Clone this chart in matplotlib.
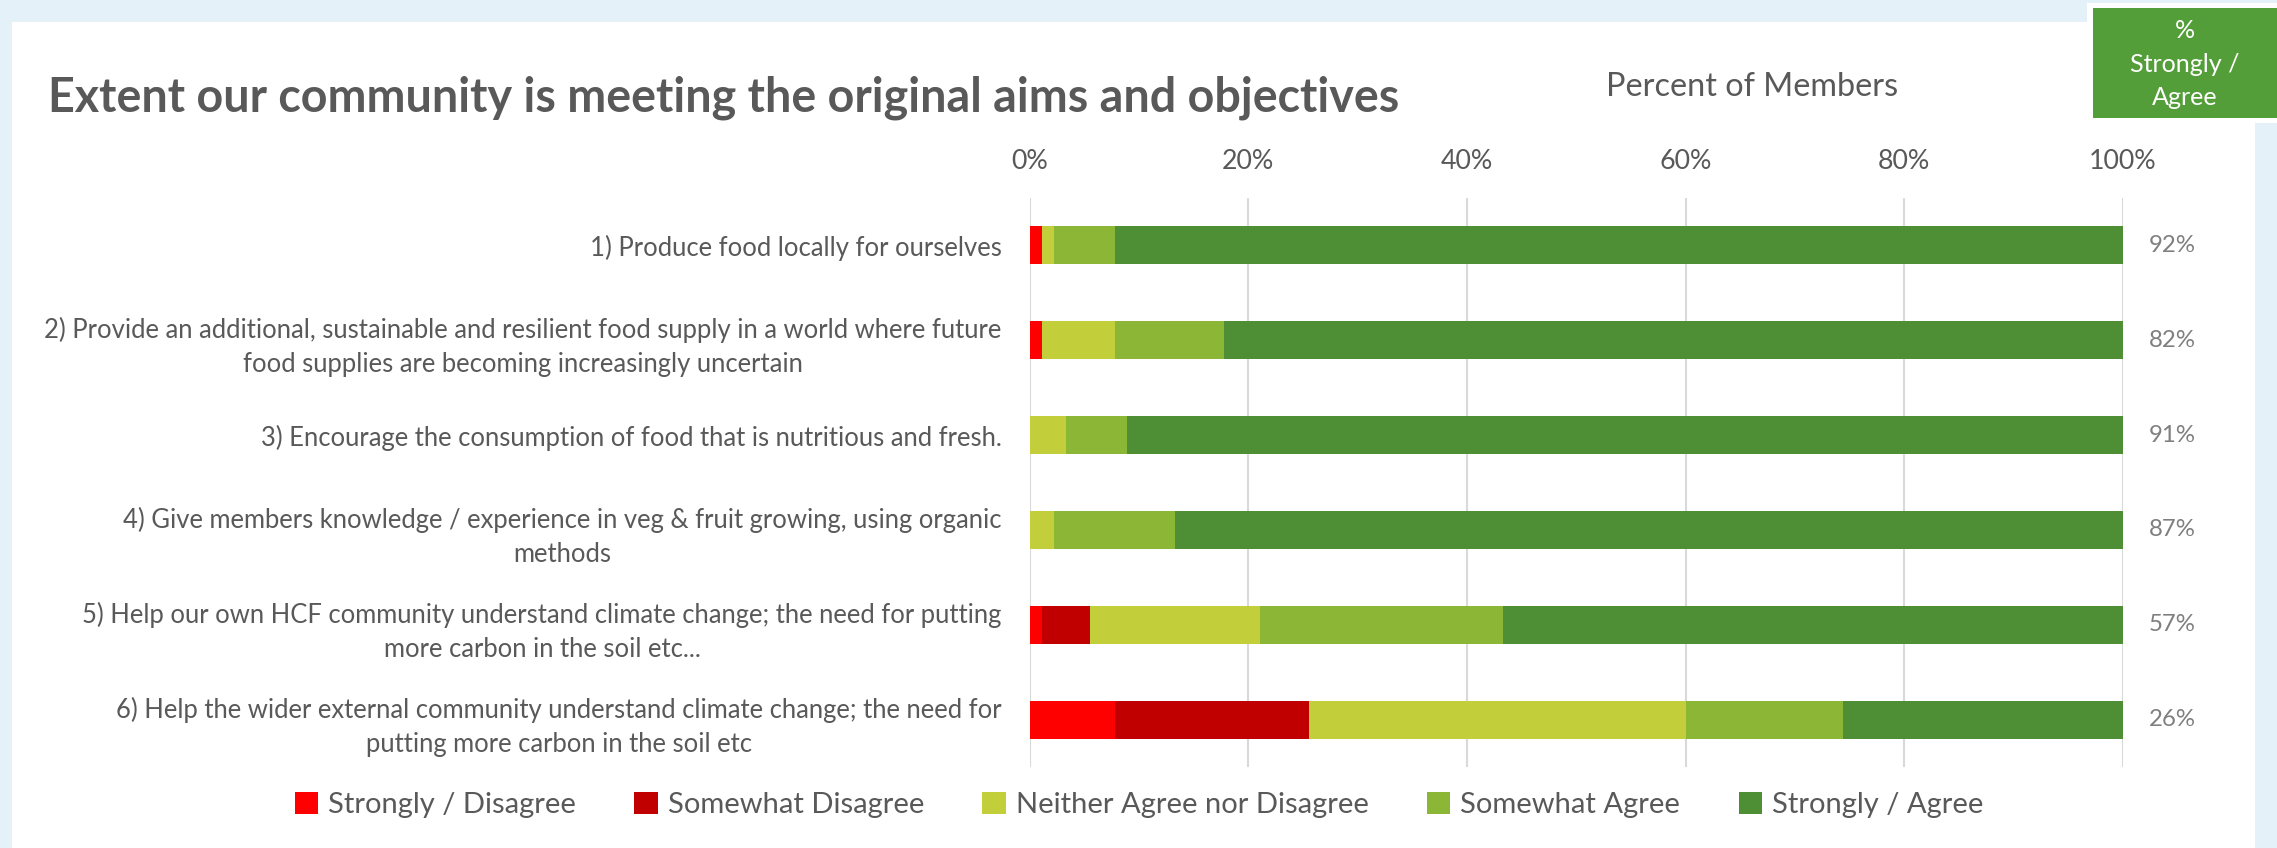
import matplotlib
matplotlib.use("Agg")
import matplotlib.pyplot as plt
from matplotlib.patches import Rectangle, Patch
from matplotlib.transforms import blended_transform_factory
import numpy as np

# ---------------- data ----------------
categories = [
    "1) Produce food locally for ourselves",
    "2) Provide an additional, sustainable and resilient food supply in a world where future\nfood supplies are becoming increasingly uncertain",
    "3) Encourage the consumption of food that is nutritious and fresh.",
    "4) Give members knowledge / experience in veg & fruit growing, using organic\nmethods",
    "5) Help our own HCF community understand climate change; the need for putting\nmore carbon in the soil etc...",
    "6) Help the wider external community understand climate change; the need for\nputting more carbon in the soil etc",
]
series_names = ["Strongly / Disagree", "Somewhat Disagree", "Neither Agree nor Disagree",
                "Somewhat Agree", "Strongly / Agree"]
strongly_disagree = [1.1, 1.1, 0.0, 0.0, 1.1, 7.8]
somewhat_disagree = [0.0, 0.0, 0.0, 0.0, 4.4, 17.8]
neither = [1.1, 6.7, 3.3, 2.2, 15.6, 34.4]
somewhat_agree = [5.6, 10.0, 5.6, 11.1, 22.2, 14.4]
strongly_agree = [92.2, 82.2, 91.1, 86.7, 56.7, 25.6]
x_ticks = [0, 20, 40, 60, 80, 100]
x_tick_labels = ["0%", "20%", "40%", "60%", "80%", "100%"]

title = "Extent our community is meeting the original aims and objectives"
axis_title = "Percent of Members"
box_text = "%\nStrongly /\nAgree"

colors = ["#FF0000", "#C00000", "#C2CF3A", "#8CB736", "#4E8E35"]
TEXT = "#595959"
PCT = "#7F7F7F"
BG = "#E4F1F8"
BOX = "#549E39"
FONT = "Lato"

W, H = 2277, 848
DPI = 100
fig = plt.figure(figsize=(W / DPI, H / DPI), dpi=DPI, facecolor=BG)
renderer = fig.canvas.get_renderer()


def fx(px):
    return px / W


def fy(py):
    return 1 - py / H


def fit(text, target, weight="normal", base=20.0):
    t = fig.text(0, 0, text, fontsize=base, weight=weight, family=FONT)
    w = t.get_window_extent(renderer).width
    t.remove()
    return base * target / w


# background panels
fig.patches.append(Rectangle((fx(12), 0), fx(2255) - fx(12), fy(22), transform=fig.transFigure,
                             facecolor="white", edgecolor="none", zorder=-10))
fig.patches.append(Rectangle((fx(2087), fy(123)), 1 - fx(2087), fy(3) - fy(123), transform=fig.transFigure,
                             facecolor="white", edgecolor="none", zorder=-10))
fig.patches.append(Rectangle((fx(2093), fy(118)), 1 - fx(2093), fy(8) - fy(118), transform=fig.transFigure,
                             facecolor=BOX, edgecolor="none", zorder=-9))

# font sizes fitted to reference widths
fs_title = fit(title, 1349, weight="bold")
fs_axis = fit(axis_title, 292)
fs_cat = fit("1) Produce food locally for ourselves", 412)
fs_tick = fit("100%", 68)
fs_leg = fit("Neither Agree nor Disagree", 353)
fs_pct = fit("92%", 47)
fs_box = fit("Strongly /", 110)

# axes
x0, x1 = 1029.5, 2123
y0, y1 = 198, 767
ax = fig.add_axes([fx(x0), fy(y1), fx(x1) - fx(x0), fy(y0) - fy(y1)], zorder=2)
ax.set_facecolor("none")

ypos = np.arange(len(categories))
series = [strongly_disagree, somewhat_disagree, neither, somewhat_agree, strongly_agree]
left = np.zeros(len(categories))
handles = []
for name, vals, c in zip(series_names, series, colors):
    vals = np.array(vals)
    ax.barh(ypos, vals, left=left, height=0.4, color=c, edgecolor="none", zorder=3)
    left += vals
    handles.append(Patch(facecolor=c, edgecolor="none", label=name))

ax.set_xlim(0, 100)
ax.set_ylim(len(categories) - 0.5, -0.5)
ax.set_xticks(x_ticks)
ax.set_xticklabels(x_tick_labels, fontsize=fs_tick, color=TEXT, family=FONT)
ax.xaxis.tick_top()
ax.tick_params(axis="x", length=0, pad=17)
ax.set_yticks(ypos)
ax.set_yticklabels(categories, fontsize=fs_cat, color=TEXT, family=FONT,
                   multialignment="center", linespacing=1.45)
ax.tick_params(axis="y", length=0, pad=20)
ax.grid(axis="x", color="#D9D9D9", linewidth=1.5, zorder=0)
ax.set_axisbelow(True)
for s in ax.spines.values():
    s.set_visible(False)

# % strongly agree labels on the right
tr = blended_transform_factory(ax.transAxes, ax.transData)
xr = (2172 - x0) / (x1 - x0)
for yp, v in zip(ypos, strongly_agree):
    ax.text(xr, yp, f"{v:.0f}%", transform=tr, ha="center", va="center",
            fontsize=fs_pct, color=PCT, family=FONT, clip_on=False)

# titles
fig.text(fx(48), fy(98), title, fontsize=fs_title, weight="bold", color=TEXT,
         family=FONT, ha="left", va="center")
fig.text(fx(1752), fy(87), axis_title, fontsize=fs_axis, color=TEXT, family=FONT,
         ha="center", va="center")
fig.text(fx(2185), fy(64), box_text, fontsize=fs_box, color="white", family=FONT,
         ha="center", va="center", linespacing=1.55, zorder=5)

# legend
leg = fig.legend(handles=handles, loc="center", bbox_to_anchor=(fx(1139), fy(805)),
                 ncol=5, frameon=False, prop={"family": FONT, "size": fs_leg},
                 handlelength=0.8, handleheight=0.8, handletextpad=0.35,
                 columnspacing=2.0)
for t in leg.get_texts():
    t.set_color(TEXT)

fig.savefig("out.png", dpi=DPI, facecolor=BG)
